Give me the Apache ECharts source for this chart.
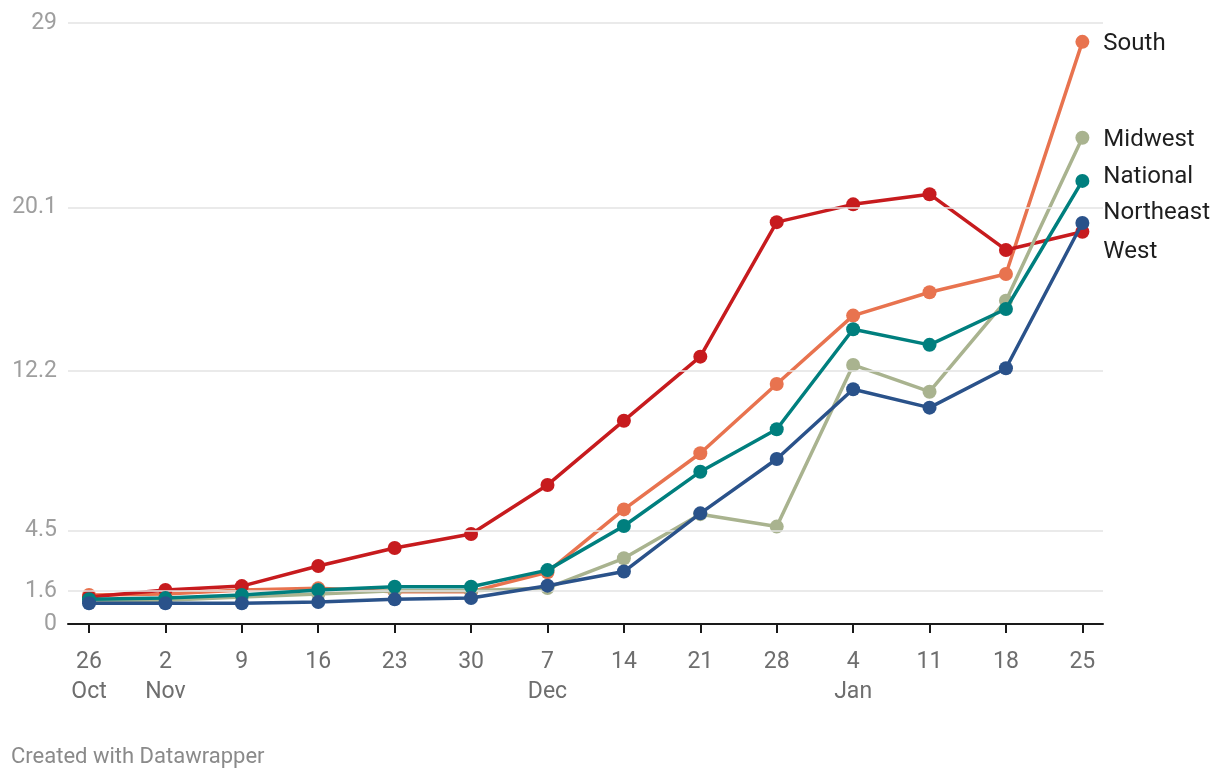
<!DOCTYPE html>
<html>
<head>
<meta charset="utf-8">
<script src="https://cdn.jsdelivr.net/npm/echarts@6/dist/echarts.min.js"></script>
<style>
html,body{margin:0;padding:0;background:#fff;}
#chart{width:1220px;height:780px;}
</style>
</head>
<body>
<div id="chart"></div>
<script>
// Data
const dates = ['26\nOct','2\nNov','9','16','23','30','7\nDec','14','21','28','4\nJan','11','18','25'];
const yTicks = [0, 1.6, 4.5, 12.2, 20.1, 29];
const south     = [1.4, 1.45, 1.64, 1.72, 1.56, 1.56, 2.5, 5.53, 8.24, 11.58, 14.88, 16.01, 16.89, 28.09];
const west      = [1.3, 1.64, 1.83, 2.80, 3.67, 4.34, 6.71, 9.81, 12.90, 19.39, 20.25, 20.74, 18.05, 18.93];
const midwest   = [1.1, 1.15, 1.3, 1.45, 1.6, 1.6, 1.74, 3.17, 5.3, 4.70, 12.50, 11.21, 15.6, 23.46];
const national  = [1.2, 1.25, 1.4, 1.64, 1.8, 1.8, 2.6, 4.73, 7.35, 9.40, 14.22, 13.47, 15.2, 21.38];
const northeast = [1.0, 1.0, 1.0, 1.06, 1.19, 1.25, 1.85, 2.53, 5.34, 7.96, 11.33, 10.44, 12.34, 19.35];

const seriesDefs = [
  {name:'South', data:south, color:'#e8734f', dy:2},
  {name:'West', data:west, color:'#c71b1e', dy:20},
  {name:'Midwest', data:midwest, color:'#a9b38f', dy:2},
  {name:'National', data:national, color:'#007f7e', dy:-4},
  {name:'Northeast', data:northeast, color:'#2a528a', dy:-10}
];

const chart = echarts.init(document.getElementById('chart'));
const idx = dates.map((d,i)=>i);

const series = seriesDefs.map((s, k) => ({
  name: s.name,
  type: 'line',
  data: s.data.map((v,i)=>[i,v]),
  symbol: 'circle',
  symbolSize: 14,
  showSymbol: true,
  z: 2 + k,
  lineStyle: {color: s.color, width: 3.5},
  itemStyle: {color: s.color},
  emphasis: {disabled: true},
  endLabel: {
    show: true,
    formatter: s.name,
    color: '#1e1e1e',
    fontFamily: 'Roboto',
    fontSize: 24,
    distance: 21,
    offset: [0, s.dy]
  },
  animation: false
}));

// grid lines via markLine on an empty series
series.push({
  type: 'line',
  data: [],
  silent: true,
  z: 0,
  markLine: {
    silent: true,
    symbol: 'none',
    label: {show: false},
    lineStyle: {color: '#e3e3e3', width: 1.5, type: 'solid'},
    data: yTicks.filter(v => v > 0).map(v => ({yAxis: v}))
  },
  animation: false
});

chart.setOption({
  animation: false,
  backgroundColor: '#fff',
  grid: {left: 68, right: 117, top: 23, bottom: 156, containLabel: false},
  xAxis: {
    type: 'value',
    min: -0.275,
    max: 13.27,
    splitLine: {show: false},
    axisLine: {show: true, onZero: false, lineStyle: {color: '#1a1a1a', width: 2}},
    axisTick: {show: true, customValues: idx, length: 9, inside: false, lineStyle: {color: '#1a1a1a', width: 2}},
    axisLabel: {
      customValues: idx,
      formatter: v => dates[Math.round(v)],
      color: '#6e6e6e',
      fontFamily: 'Roboto',
      fontSize: 23,
      lineHeight: 30,
      margin: 23
    }
  },
  yAxis: {
    type: 'value',
    min: 0,
    max: 29,
    splitLine: {show: false},
    axisLine: {show: false},
    axisTick: {show: false},
    axisLabel: {
      customValues: yTicks,
      formatter: v => String(v),
      color: '#9e9e9e',
      fontFamily: 'Roboto',
      fontSize: 23,
      margin: 11
    }
  },
  graphic: [{
    type: 'text',
    left: 11,
    top: 746,
    style: {text: 'Created with Datawrapper', fill: '#8a8a8a', font: '22px Roboto'}
  }],
  series: series
});
</script>
</body>
</html>
